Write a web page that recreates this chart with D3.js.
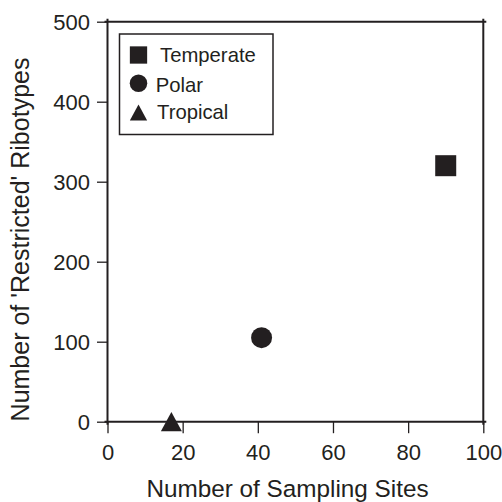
<!DOCTYPE html>
<html>
<head>
<meta charset="utf-8">
<script src="https://cdn.jsdelivr.net/npm/d3@7"></script>
<style>
  html, body { margin: 0; padding: 0; background: #fff; }
  svg { display: block; font-family: "Liberation Sans", Arial, Helvetica, sans-serif; }
</style>
</head>
<body>
<svg id="chart" width="502" height="502"></svg>
<script>
// ---- data ----
const groups = ["Temperate", "Polar", "Tropical"];
const shapes = ["square", "circle", "triangle"];
const samplingSites = [90, 41, 17];
const restrictedRibotypes = [320, 105, 0];
const xTicks = [0, 20, 40, 60, 80, 100];
const yTicks = [0, 100, 200, 300, 400, 500];
const xTitle = "Number of Sampling Sites";
const yTitle = "Number of 'Restricted' Ribotypes";

const ink = "#231f20";
const svg = d3.select("#chart");

const pLeft = 107.5, pRight = 483.3, pTop = 21.7, pBottom = 421.7;
const x = d3.scaleLinear().domain([0, 100]).range([pLeft, pRight]);
const y = d3.scaleLinear().domain([0, 500]).range([pBottom, pTop]);

// frame
const frame = svg.append("g").attr("stroke", ink).attr("stroke-width", 2).attr("fill", "none");
frame.append("line").attr("x1", pLeft).attr("x2", pLeft).attr("y1", pTop - 3).attr("y2", pBottom + 3);
frame.append("line").attr("x1", pRight).attr("x2", pRight).attr("y1", pTop - 3).attr("y2", pBottom + 3);
frame.append("line").attr("x1", pLeft - 3).attr("x2", pRight + 3).attr("y1", pTop).attr("y2", pTop);
frame.append("line").attr("x1", pLeft - 3).attr("x2", pRight + 3).attr("y1", pBottom).attr("y2", pBottom);

// axes
const xAxis = svg.append("g")
  .attr("transform", `translate(0,${pBottom})`)
  .call(d3.axisBottom(x).tickValues(xTicks).tickSize(11.5).tickSizeOuter(0).tickPadding(11.5));
const yAxis = svg.append("g")
  .attr("transform", `translate(${pLeft},0)`)
  .call(d3.axisLeft(y).tickValues(yTicks).tickSize(10.5).tickSizeOuter(0).tickPadding(7));
[xAxis, yAxis].forEach(a => {
  a.select(".domain").remove();
  a.selectAll(".tick line").attr("stroke", ink).attr("stroke-width", 1.3);
  a.selectAll(".tick text").attr("fill", ink).attr("font-size", 22)
    .attr("font-family", "\"Liberation Sans\", Arial, Helvetica, sans-serif");
});
yAxis.selectAll(".tick text").attr("dy", "0.36em");

// titles
svg.append("text")
  .attr("x", 287.5).attr("y", 496.5)
  .attr("text-anchor", "middle")
  .attr("font-size", 24.3).attr("fill", ink)
  .text(xTitle);
svg.append("text")
  .attr("transform", "translate(28.5,239.5) rotate(-90)")
  .attr("text-anchor", "middle")
  .attr("font-size", 25).attr("fill", ink)
  .text(yTitle);

// marker drawing
function marker(g, shape, cx, cy, s) {
  if (shape === "square") {
    g.append("rect").attr("x", cx - s / 2).attr("y", cy - s / 2)
      .attr("width", s).attr("height", s).attr("fill", ink);
  } else if (shape === "circle") {
    g.append("circle").attr("cx", cx).attr("cy", cy).attr("r", s / 2).attr("fill", ink);
  } else {
    const h = s * 0.92;
    g.append("path")
      .attr("d", `M${cx},${cy - h / 2}L${cx + s / 2},${cy + h / 2}L${cx - s / 2},${cy + h / 2}Z`)
      .attr("fill", ink);
  }
}

// points
const pts = svg.append("g");
groups.forEach((gname, i) => {
  marker(pts, shapes[i], x(samplingSites[i]), y(restrictedRibotypes[i]), 21);
});

// legend
const lg = svg.append("g");
lg.append("rect").attr("x", 119.5).attr("y", 34).attr("width", 153.5).attr("height", 100.5)
  .attr("fill", "#fff").attr("stroke", ink).attr("stroke-width", 1.5);
const legY = [55, 83.3, 112.5];
const legSize = [17.3, 17.5, 17.3];
const legTextX = [160, 155.7, 157];
const legBase = [62.3, 91.7, 119.3];
groups.forEach((gname, i) => {
  marker(lg, shapes[i], 138.5, legY[i], legSize[i]);
  lg.append("text").attr("x", legTextX[i]).attr("y", legBase[i])
    .attr("font-size", 20.3).attr("fill", ink).text(gname);
});
</script>
</body>
</html>
